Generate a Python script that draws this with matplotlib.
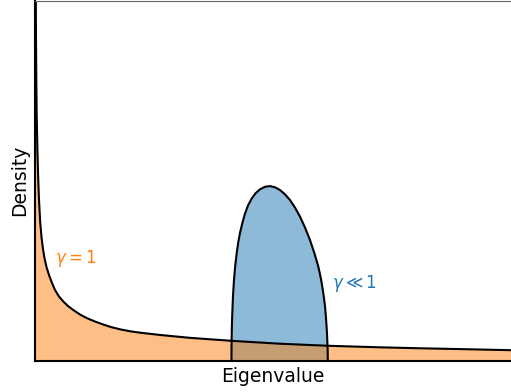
import matplotlib.pyplot as plt

# gamma = 1 curve
x_one = [0.0025, 0.0034, 0.0042, 0.0055, 0.0071, 0.0101, 0.0134, 0.0168, 0.0218, 0.0273,
         0.0336, 0.0399, 0.0483, 0.0588, 0.0714, 0.0840, 0.1008, 0.1189, 0.1387, 0.1609,
         0.1891, 0.2172, 0.2521, 0.2870, 0.3193, 0.3571, 0.3992, 0.4412, 0.5252, 0.6513,
         0.8265, 1.0294, 1.2311, 1.4496, 1.6176, 1.8277, 2.0]
y_one = [3.342, 3.008, 2.675, 2.342, 2.05, 1.758, 1.525, 1.342, 1.158, 1.033,
         0.933, 0.858, 0.783, 0.717, 0.65, 0.592, 0.5375, 0.496, 0.458, 0.425,
         0.3875, 0.358, 0.329, 0.304, 0.283, 0.264, 0.248, 0.236, 0.217, 0.193,
         0.168, 0.144, 0.127, 0.114, 0.106, 0.0975, 0.09]

# gamma << 1 curve
x_small = [0.8256, 0.8256, 0.8261, 0.8273, 0.8290, 0.8319, 0.8361, 0.8412, 0.8475, 0.8542,
           0.8613, 0.8718, 0.8824, 0.8950, 0.9105, 0.9265, 0.9454, 0.9664, 0.9874, 1.0084,
           1.0294, 1.0504, 1.0714, 1.0924, 1.1134, 1.1345, 1.1555, 1.1744, 1.1903, 1.2017,
           1.2113, 1.2185, 1.2227, 1.2261, 1.2282, 1.2298, 1.2303]
y_small = [0.0, 0.092, 0.175, 0.30, 0.40, 0.542, 0.675, 0.792, 0.90, 0.992,
           1.067, 1.154, 1.229, 1.296, 1.354, 1.3975, 1.431, 1.452, 1.458, 1.448,
           1.425, 1.389, 1.342, 1.279, 1.204, 1.1125, 1.008, 0.896, 0.7875, 0.683,
           0.567, 0.458, 0.358, 0.258, 0.167, 0.075, 0.0]

fig = plt.figure(figsize=(5.11, 3.92), dpi=100)
ax = fig.add_axes([35 / 511, 31 / 392, 1 - 35 / 511, 1 - 31 / 392 - 0.6 / 392])

ax.fill_between(x_small, 0, y_small, color='tab:blue', alpha=0.5, lw=0)
ax.fill_between(x_one, 0, y_one, color='tab:orange', alpha=0.5, lw=0)
ax.plot(x_one, y_one, color='black', lw=1.5)
ax.plot(x_small, y_small, color='black', lw=1.5)

ax.text(0.084, 0.858, r'$\gamma = 1$', color='tab:orange', fontsize=12,
        ha='left', va='center')
ax.text(1.248, 0.65, r'$\gamma \ll 1$', color='tab:blue', fontsize=12,
        ha='left', va='center')

ax.set_xlim(0, 2.0)
ax.set_ylim(0, 3.004)
ax.set_xticks([])
ax.set_yticks([])
ax.spines['right'].set_visible(False)
ax.spines['left'].set_linewidth(1.5)
ax.spines['bottom'].set_linewidth(1.5)
ax.spines['top'].set_color('0.4')
ax.set_xlabel('Eigenvalue', fontsize=13.5)
ax.set_ylabel('Density', fontsize=13.5)

fig.savefig('out.png', dpi=100)
